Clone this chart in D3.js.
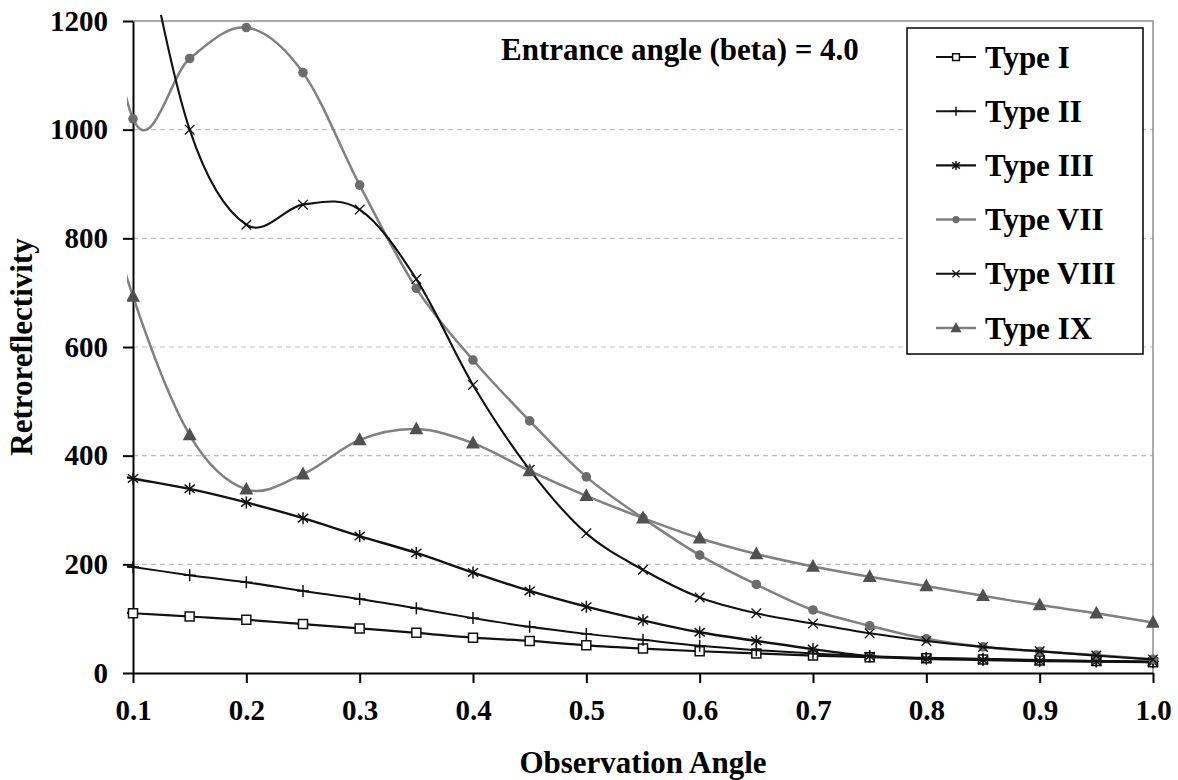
<!DOCTYPE html>
<html>
<head>
<meta charset="utf-8">
<script src="https://cdn.jsdelivr.net/npm/d3@7"></script>
<style>
  html, body { margin: 0; padding: 0; background: #ffffff; }
  svg { display: block; }
  svg text { font-family: "Liberation Serif", "Tinos", "Times New Roman", Times, "DejaVu Serif", "Noto Serif", serif !important; font-weight: bold; fill: #000; }
</style>
</head>
<body>
<svg id="chart" width="1178" height="780"></svg>
<script>
// Observation angles (degrees); the first sample sits just left of the axis minimum.
const observationAngles = [0.05, 0.10, 0.15, 0.20, 0.25, 0.30, 0.35, 0.40, 0.45, 0.50,
                           0.55, 0.60, 0.65, 0.70, 0.75, 0.80, 0.85, 0.90, 0.95, 1.00];

// Retroreflectivity by sheeting type
const typeI    = [115, 110, 104,  98,  90,  82,  74,  65,  59,  51,  45,  40,  36,  32,  29,  27,  25,  23,  22,  20];
const typeII   = [208, 195, 180, 167, 151, 136, 119, 101,  85,  72,  61,  50,  42,  36,  31,  28,  26,  24,  22,  21];
const typeIII  = [378, 358, 339, 314, 285, 252, 221, 185, 151, 122,  97,  75,  59,  44,  31,  26,  24,  22,  21,  20];
const typeVII  = [1600, 1020, 1131, 1188, 1105, 898, 708, 576, 464, 361, 285, 217, 163, 116,  87,  63,  48,  40,  33,  25];
const typeVIII = [1900, 1450, 1000, 825, 862, 853, 725, 530, 374, 257, 190, 139, 110,  91,  73,  59,  48,  40,  32,  25];
const typeIX   = [1060, 693, 438, 338, 366, 429, 449, 423, 372, 326, 285, 248, 219, 196, 177, 160, 142, 125, 110,  93];

const seriesNames = ["Type I", "Type II", "Type III", "Type VII", "Type VIII", "Type IX"];
const seriesValues = [typeI, typeII, typeIII, typeVII, typeVIII, typeIX];

const yTickValues = [0, 200, 400, 600, 800, 1000, 1200];
const xTickValues = [0.1, 0.2, 0.3, 0.4, 0.5, 0.6, 0.7, 0.8, 0.9, 1.0];
const gridValues = [200, 400, 600, 800, 1000];

const noteText = "Entrance angle (beta) = 4.0";
const xTitle = "Observation Angle";
const yTitle = "Retroreflectivity";

// Per-series appearance
const seriesStyle = [
  { line: "#111", marker: "square",   markFill: "#fff",    markStroke: "#111", width: 2.2 },
  { line: "#111", marker: "plus",     markFill: "none",    markStroke: "#111", width: 2 },
  { line: "#111", marker: "asterisk", markFill: "none",    markStroke: "#111", width: 2.4 },
  { line: "#808080", marker: "circle", markFill: "#6c6c6c", markStroke: "#6c6c6c", width: 2.5 },
  { line: "#111", marker: "times",    markFill: "none",    markStroke: "#111", width: 2.1 },
  { line: "#808080", marker: "triangle", markFill: "#505050", markStroke: "#505050", width: 2.5 }
];

const FONT = '"Liberation Serif", "Tinos", "Times New Roman", Times, "DejaVu Serif", "Noto Serif", serif';

const svg = d3.select("#chart");
const plot = { left: 133, right: 1153, top: 21, bottom: 673 };

const x = d3.scaleLinear().domain([0.1, 1.0]).range([plot.left, plot.right]);
const y = d3.scaleLinear().domain([0, 1200]).range([plot.bottom, plot.top]);

svg.append("rect").attr("width", 1178).attr("height", 780).attr("fill", "#fff");

// Dashed horizontal gridlines
svg.append("g").selectAll("line").data(gridValues).join("line")
  .attr("x1", plot.left).attr("x2", plot.right)
  .attr("y1", d => y(d)).attr("y2", d => y(d))
  .attr("stroke", "#bdbdbd").attr("stroke-width", 1.2).attr("stroke-dasharray", "5,4");

// Plot frame (top and right)
svg.append("path")
  .attr("d", `M${plot.left},${y(1200)}H${x(1.0)}V${y(0)}`)
  .attr("fill", "none").attr("stroke", "#8f8f8f").attr("stroke-width", 1.5);

// Axes
const yAxis = d3.axisLeft(y).tickValues(yTickValues).tickFormat(d3.format("d"))
  .tickSize(10).tickSizeOuter(0).tickPadding(15);
const gy = svg.append("g").attr("transform", `translate(${plot.left},0)`).call(yAxis);

const xAxis = d3.axisBottom(x).tickValues(xTickValues).tickFormat(d3.format(".1f"))
  .tickSize(10).tickSizeOuter(0).tickPadding(16);
const gx = svg.append("g").attr("transform", `translate(0,${plot.bottom})`).call(xAxis);

[gx, gy].forEach(g => {
  g.attr("font-family", FONT).attr("font-size", 29).attr("font-weight", "bold");
  g.select(".domain").attr("stroke", "#000").attr("stroke-width", 2);
  g.selectAll(".tick line").attr("stroke", "#000").attr("stroke-width", 2);
  g.selectAll("text").attr("fill", "#000");
});

// Series are clipped slightly beyond the plot area
svg.append("clipPath").attr("id", "plotClip").append("rect")
  .attr("x", plot.left - 6).attr("y", plot.top - 6)
  .attr("width", plot.right - plot.left + 12).attr("height", plot.bottom - plot.top + 12);

function markerPath(kind, s) {
  switch (kind) {
    case "square":   return `M${-s*0.75},${-s*0.75}h${s*1.5}v${s*1.5}h${-s*1.5}Z`;
    case "plus":     return `M0,${-s}V${s}M${-s},0H${s}`;
    case "asterisk": return `M0,${-s}V${s}M${-s*0.85},${-s*0.7}L${s*0.85},${s*0.7}M${-s*0.85},${s*0.7}L${s*0.85},${-s*0.7}`;
    case "times":    return `M${-s*0.8},${-s*0.8}L${s*0.8},${s*0.8}M${-s*0.8},${s*0.8}L${s*0.8},${-s*0.8}`;
    case "triangle": return `M0,${-s}L${s*0.95},${s*0.75}L${-s*0.95},${s*0.75}Z`;
    default:         return "";
  }
}

function drawMarker(sel, st, s) {
  if (st.marker === "circle") {
    sel.append("circle").attr("r", s * 0.8).attr("fill", st.markFill).attr("stroke", "none");
  } else {
    sel.append("path").attr("d", markerPath(st.marker, s))
      .attr("fill", st.markFill).attr("stroke", st.markStroke)
      .attr("stroke-width", st.marker === "times" ? 1.3 : 1.5);
  }
}

const line = d3.line()
  .x(d => x(d[0])).y(d => y(d[1]))
  .curve(d3.curveCatmullRom.alpha(0));

const seriesLayer = svg.append("g").attr("clip-path", "url(#plotClip)");

seriesValues.forEach((vals, i) => {
  const st = seriesStyle[i];
  const pts = observationAngles.map((a, j) => [a, vals[j]]);
  const g = seriesLayer.append("g");
  g.append("path").datum(pts)
    .attr("d", line).attr("fill", "none")
    .attr("stroke", st.line).attr("stroke-width", st.width)
    .attr("stroke-linejoin", "round");
  g.selectAll("g.mk").data(pts).join("g").attr("class", "mk")
    .attr("transform", d => `translate(${x(d[0])},${y(d[1])})`)
    .each(function () { drawMarker(d3.select(this), st, 6); });
});

// Note inside the plot
svg.append("text")
  .attr("x", 680).attr("y", 60)
  .attr("text-anchor", "middle")
  .attr("font-family", FONT).attr("font-weight", "bold")
  .style("font-size", "31px")
  .text(noteText);

// Legend
const legend = svg.append("g").attr("transform", "translate(907,28)");
legend.append("rect").attr("width", 236).attr("height", 326)
  .attr("fill", "#fff").attr("stroke", "#000").attr("stroke-width", 1.5);
seriesNames.forEach((name, i) => {
  const st = seriesStyle[i];
  const cy = 29 + i * 54.2;
  const item = legend.append("g").attr("transform", `translate(0,${cy})`);
  item.append("line").attr("x1", 29).attr("x2", 69).attr("y1", 0).attr("y2", 0)
    .attr("stroke", st.line).attr("stroke-width", st.width);
  const mk = item.append("g").attr("transform", "translate(49,0)");
  drawMarker(mk, st, 4.5);
  item.append("text").attr("x", 78).attr("y", 0).attr("dy", "0.34em")
    .attr("font-family", FONT).attr("font-weight", "bold")
    .style("font-size", "31px").text(name);
});

// Axis titles
svg.append("text")
  .attr("x", (plot.left + plot.right) / 2).attr("y", 773)
  .attr("text-anchor", "middle")
  .attr("font-family", FONT).attr("font-weight", "bold")
  .style("font-size", "31px")
  .text(xTitle);

svg.append("text")
  .attr("transform", `translate(32,${(plot.top + plot.bottom) / 2}) rotate(-90)`)
  .attr("text-anchor", "middle")
  .attr("font-family", FONT).attr("font-weight", "bold")
  .style("font-size", "31px")
  .text(yTitle);
</script>
</body>
</html>
